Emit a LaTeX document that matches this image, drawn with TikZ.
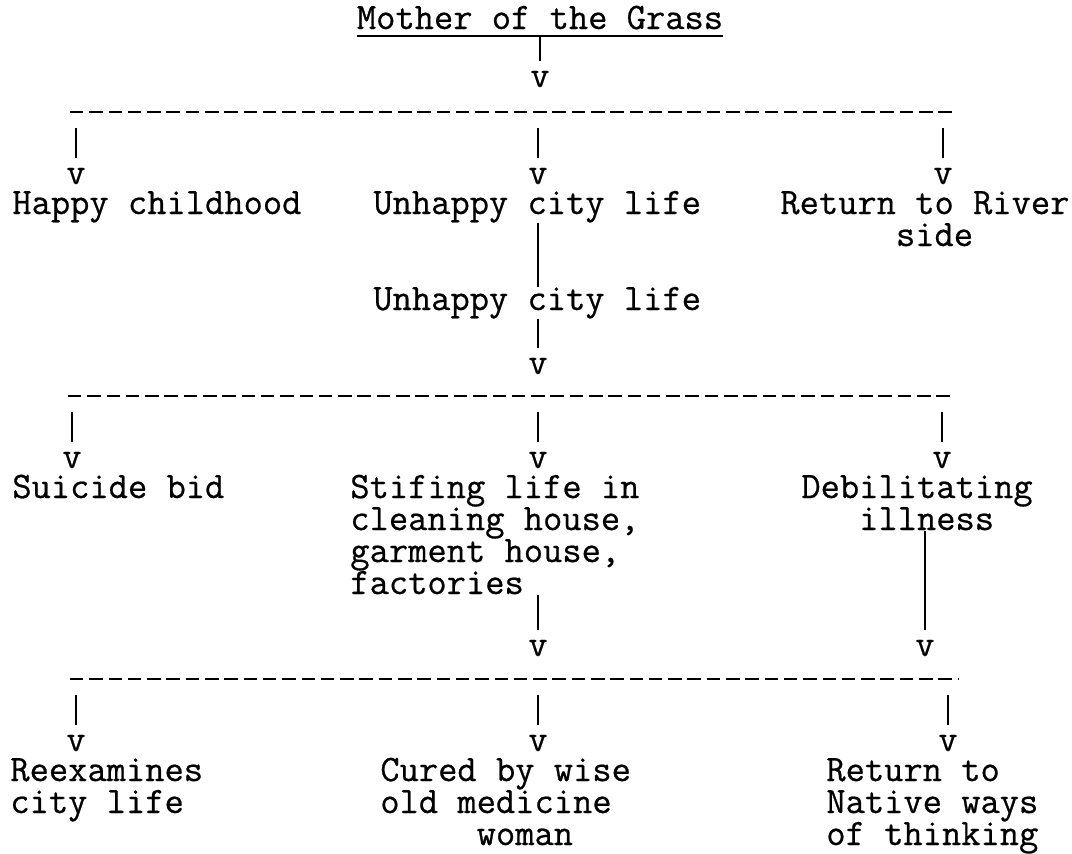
\documentclass[tikz,border=0pt]{standalone}
\usepackage{fontspec}
\newfontfamily\typewriter{lmmono12-regular.otf}[FakeBold=0.6]
\usepackage{tikz}
\usetikzlibrary{positioning}
\newcommand{\tw}{\typewriter\fontsize{21.3pt}{18.2pt}\selectfont}
\newcommand{\indentcols}[1]{\hspace*{#1\fontcharwd\font`\x}}

\begin{document}
\begin{tikzpicture}[x=0.02cm, y=-0.02cm,
  lbl/.style={font=\tw, inner sep=0pt, anchor=base west, align=left},
  tip/.style={font=\tw, inner sep=0pt, anchor=base},
  stem/.style={line width=1pt, shorten >=0.2cm},
  bar/.style={line width=1.4pt, dash pattern=on 0.27cm off 0.116cm}]
  \useasboundingbox (0,0) rectangle (1072,853);

  \node[lbl, anchor=base, text depth=0.14cm] (title) at (540,29) {Mother of the Grass};
  \draw[line width=1.2pt] (title.south west) -- (title.south east);
  \node[tip] (v0) at (540,87) {v};
  \draw[stem] (title.south -| v0) -- (v0);

  \foreach \i/\y/\xa/\xb in {1/112/70/952, 2/396/68/953, 3/679/70/958}
    \draw[bar] (\xa,\y) coordinate (bar\i-w) -- (\xb,\y) coordinate (bar\i-e);

  \foreach \i/\y/\xl/\xm/\xr in {1/112/76/538/943, 2/396/72/538/942, 3/679/76/538/948} {
    \foreach \c/\x in {l/\xl, m/\xm, r/\xr} {
      \coordinate (s\i\c) at (\x,\y+16);
      \node[tip] (v\i\c) at (\x,\y+72) {v};
      \draw[stem] (s\i\c) -- (v\i\c);
    }
  }

  % multi-line labels sit on the baseline of their last line
  \node[lbl] (happy) at (12,214) {Happy childhood};
  \node[lbl] (city1) at (373,214) {Unhappy city life};
  \node[lbl] (river) at (780,246) {Return to River\\\indentcols{6}side};
  \node[lbl] (city2) at (373,310) {Unhappy city life};
  \node[tip] (vc) at (538,374) {v};
  \draw[stem, shorten >=0pt] (city1.south -| v1m) -- (city2.north -| v1m);
  \draw[stem] (city2.south -| vc) -- (vc);

  \node[lbl] (suicide) at (12,498) {Suicide bid};
  \node[lbl] (stifle) at (350,594) {Stifing life in\\cleaning house,\\garment house,\\factories};
  \node[lbl] (illness) at (801,530) {Debilitating\\\indentcols{3}illness};
  \node[tip] (v4m) at (538,656) {v};
  \node[tip] (v4r) at (925,656) {v};
  \draw[stem] (stifle.south -| v4m) -- (v4m);
  \draw[stem] (illness.south -| v4r) -- (v4r);

  \node[lbl] (reexam) at (10,813) {Reexamines\\city life};
  \node[lbl] (cured) at (380,845) {Cured by wise\\old medicine\\\indentcols{5}woman};
  \node[lbl] (native) at (826,845) {Return to\\Native ways\\of thinking};
\end{tikzpicture}
\end{document}
